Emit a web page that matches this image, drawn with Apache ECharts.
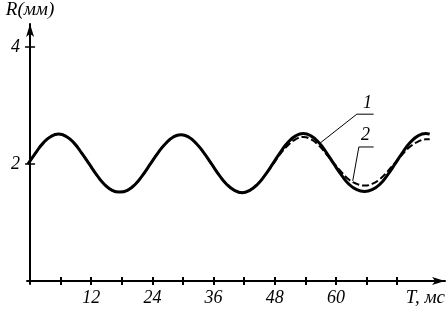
<!DOCTYPE html>
<html><head><meta charset="utf-8">
<script src="https://cdn.jsdelivr.net/npm/echarts@6/dist/echarts.min.js"></script>
<style>html,body{margin:0;padding:0;background:#fff}#c{width:446px;height:311px}</style>
</head><body><div id="c"></div>
<script>
var times = [-0.4,1.1,2.6,4.1,5.6,7.1,8.6,10.1,11.6,13.1,14.6,16.1,17.6,19.1,20.6,22.1,
  23.6,25.1,26.6,28.1,29.6,31.1,32.6,34.1,35.6,37.1,38.6,40.1,41.6,43.1,44.6,46.1,
  47.6,49.1,50.6,52.1,53.6,55.1,56.6,58.1,59.6,61.1,62.6,64.1,65.6,67.1,68.6,70.1,
  71.6,73.1,74.6,76.1,77.6,78.4];
var curve1 = [2.00,2.19,2.36,2.47,2.51,2.47,2.36,2.19,2.00,1.81,1.65,1.55,1.52,1.55,1.65,1.81,
  2.00,2.19,2.35,2.46,2.50,2.46,2.35,2.19,2.00,1.81,1.65,1.55,1.51,1.55,1.65,1.81,
  2.00,2.20,2.37,2.48,2.52,2.48,2.37,2.20,2.00,1.81,1.65,1.56,1.53,1.56,1.65,1.81,
  2.00,2.20,2.37,2.48,2.52,2.51];
var curve2 = [2.00,2.19,2.36,2.47,2.51,2.47,2.36,2.19,2.00,1.81,1.65,1.55,1.52,1.55,1.65,1.81,
  2.00,2.19,2.35,2.46,2.50,2.46,2.35,2.19,2.00,1.81,1.65,1.55,1.51,1.55,1.65,1.81,
  1.99,2.17,2.32,2.42,2.46,2.42,2.32,2.17,2.01,1.86,1.73,1.66,1.63,1.66,1.74,1.87,
  2.02,2.17,2.30,2.38,2.42,2.42];
var xTicks = [6,12,18,24,30,36,42,48,54,60,66,72];
var xLabels = [12,24,36,48,60];
var yTicks = [2,4];
var yLabels = [2,4];
var seriesNames = ['1','2'];
var yTitle = 'R(мм)';
var xTitle = 'T, мс';

function pairs(xs, ys){ return xs.map(function(x,i){ return [x, ys[i]]; }); }
var FONT = '"Liberation Serif", "DejaVu Serif", serif';
var chart = echarts.init(document.getElementById('c'), null, {renderer:'canvas'});
var grid = {left:27, right:1, top:22, bottom:27};
function xAx(inside, show){
  return {type:'value', min:-0.6, max:81.4, position:'bottom',
    axisLine:{show:show, lineStyle:{color:'#000', width:2}, symbol:['none','arrow'], symbolSize:[6,13]},
    axisTick:{show:true, inside:inside, length:4, customValues:xTicks, lineStyle:{color:'#000', width:2}},
    axisLabel:{show:show, customValues:xLabels, color:'#000', fontFamily:FONT, fontStyle:'italic', fontSize:18, margin:5},
    splitLine:{show:false}};
}
function yAx(inside, show){
  return {type:'value', min:-0.05, max:4.39, position:'left',
    name: show ? yTitle : '', nameLocation:'end', nameGap:5,
    nameTextStyle:{color:'#000', fontFamily:FONT, fontStyle:'italic', fontSize:19},
    axisLine:{show:show, lineStyle:{color:'#000', width:2}, symbol:['none','arrow'], symbolSize:[6,13]},
    axisTick:{show:true, inside:inside, length:5, customValues:yTicks, lineStyle:{color:'#000', width:1.5}},
    axisLabel:{show:show, customValues:yLabels, color:'#000', fontFamily:FONT, fontStyle:'italic', fontSize:18, margin:7},
    splitLine:{show:false}};
}
chart.setOption({
  animation:false,
  backgroundColor:'#fff',
  grid:grid,
  xAxis:[xAx(false,true), xAx(true,false)],
  yAxis:[yAx(false,true), yAx(true,false)],
  series:[
    {name:seriesNames[1], type:'line', xAxisIndex:0, yAxisIndex:0, data:pairs(times,curve2), smooth:true, symbol:'none',
      lineStyle:{color:'#000', width:2, type:[7,3]}, z:2},
    {name:seriesNames[0], type:'line', xAxisIndex:0, yAxisIndex:0, data:pairs(times,curve1), smooth:true, symbol:'none',
      lineStyle:{color:'#000', width:3}, z:3}
  ]
});
function P(t, r){ return chart.convertToPixel({xAxisIndex:0, yAxisIndex:0}, [t, r]); }
var a1 = P(56.8, 2.35), b1 = P(64.1, 2.85), c1 = P(67.4, 2.85), t1 = P(66.2, 3.03);
var a2 = P(63.3, 1.71), b2 = P(64.5, 2.29), c2 = P(67.4, 2.29), t2 = P(65.8, 2.49);
var txt = {fill:'#000', fontFamily:FONT, fontStyle:'italic', fontSize:18, align:'center', verticalAlign:'middle'};
chart.setOption({graphic:[
  {type:'polyline', shape:{points:[a1,b1,c1]}, style:{stroke:'#000', lineWidth:1, fill:null}, z:10},
  {type:'polyline', shape:{points:[a2,b2,c2]}, style:{stroke:'#000', lineWidth:1, fill:null}, z:10},
  {type:'text', x:t1[0], y:t1[1], style:Object.assign({text:seriesNames[0]}, txt), z:10},
  {type:'text', x:t2[0], y:t2[1], style:Object.assign({text:seriesNames[1]}, txt), z:10},
  {type:'text', right:1, top:288, style:Object.assign({}, txt, {text:xTitle, fontSize:19, align:'right', verticalAlign:'top'}), z:10}
]});
</script></body></html>
